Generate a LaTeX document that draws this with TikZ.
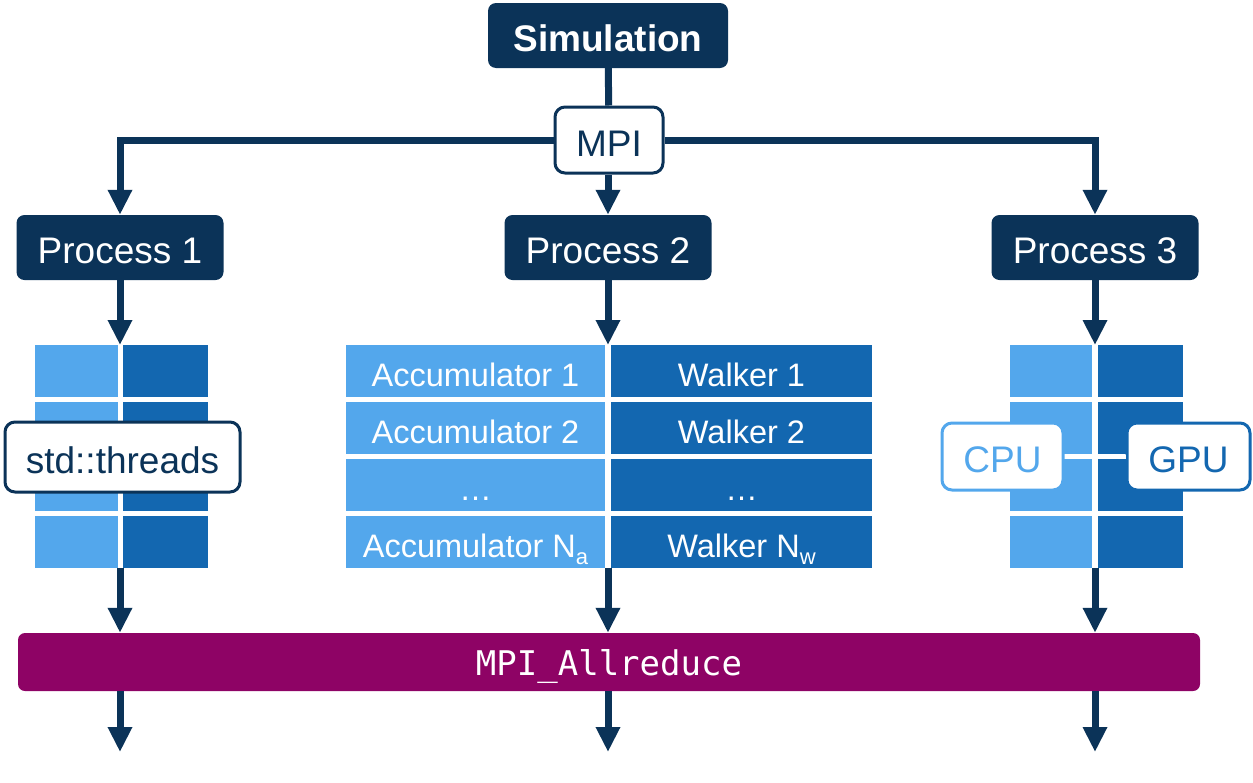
\documentclass[tikz,border=0pt]{standalone}
\usepackage{fontspec}
\setmainfont{Liberation Sans}
\newfontfamily\monofnt{DejaVu Sans Mono}
\usetikzlibrary{arrows.meta}
\definecolor{navy}{HTML}{0B3358}
\definecolor{lightb}{HTML}{53A7EC}
\definecolor{darkb}{HTML}{1367B0}
\definecolor{purp}{HTML}{8E0365}
\newcommand{\subtxt}[1]{\raisebox{-7pt}{\fontsize{22}{22}\selectfont #1}}
\begin{document}
\begin{tikzpicture}[x=1pt,y=-1pt,
  bigtext/.style={font=\fontsize{37}{40}\selectfont, text height=32.5pt, text depth=0pt},
  darkbox/.style={fill=navy, text=white, rounded corners=8pt, inner sep=0pt,
    minimum height=65pt, bigtext},
  whitebox/.style={fill=white, draw=#1, line width=3pt, rounded corners=10pt, inner sep=0pt,
    text=#1, bigtext},
  celltext/.style={font=\fontsize{32.5}{36}\selectfont, text height=31.5pt, text depth=0pt},
  cellL/.style={fill=lightb, inner sep=0pt, minimum height=52pt, text=white, celltext},
  cellD/.style={fill=darkb, inner sep=0pt, minimum height=52pt, text=white, celltext},
  conn/.style={draw=navy, line width=7pt},
  arr/.style={conn, -{Triangle[length=25pt,width=23pt]}}
]
\useasboundingbox (0,0) rectangle (1253,782);

% top
\node[darkbox, minimum width=240pt, font=\bfseries\fontsize{37}{40}\selectfont] (sim) at (608,35.5) {Simulation};
\node[whitebox=navy, minimum width=108pt, minimum height=66pt] (mpi) at (609,140) {MPI};
\node[darkbox, minimum width=207pt] (p1) at (120,247.5) {Process 1};
\node[darkbox, minimum width=207pt] (p2) at (608,247.5) {Process 2};
\node[darkbox, minimum width=207pt] (p3) at (1095,247.5) {Process 3};

\draw[conn] (sim) -- (mpi);
\draw[arr] (mpi.west) -| (p1.north);
\draw[arr] (mpi.east) -| (p3.north);
\draw[arr] (mpi.south -| p2) -- (p2.north);

% block 1
\foreach \r/\y in {1/371,2/428,3/485,4/542}{
  \node[cellL, minimum width=83pt] (a\r) at (76.5,\y) {};
  \node[cellD, minimum width=85pt] (b\r) at (165.5,\y) {};
}
% block 2
\node[cellL, minimum width=259pt] (acc1) at (475.5,371) {Accumulator 1};
\node[cellD, minimum width=261pt] (wal1) at (741.5,371) {Walker 1};
\node[cellL, minimum width=259pt] (acc2) at (475.5,428) {Accumulator 2};
\node[cellD, minimum width=261pt] (wal2) at (741.5,428) {Walker 2};
\node[cellL, minimum width=259pt] (acc3) at (475.5,485) {\dots};
\node[cellD, minimum width=261pt] (wal3) at (741.5,485) {\dots};
\node[cellL, minimum width=259pt] (acc4) at (475.5,542) {Accumulator N\subtxt{a}};
\node[cellD, minimum width=261pt] (wal4) at (741.5,542) {Walker N\subtxt{w}};
% block 3
\foreach \r/\y in {1/371,2/428,3/485,4/542}{
  \node[cellL, minimum width=82pt] (c\r) at (1051,\y) {};
  \node[cellD, minimum width=85pt] (d\r) at (1140.5,\y) {};
}

\node[whitebox=navy, minimum width=235pt, minimum height=70pt] (thr) at (122.5,457) {std::threads};
\node[whitebox=lightb, minimum width=121pt, minimum height=67pt] (cpu) at (1002.5,456.5) {CPU};
\node[whitebox=darkb, minimum width=123pt, minimum height=67pt] (gpu) at (1188.5,456.5) {GPU};
\draw[white, line width=4pt] (cpu.east) -- (gpu.west);

% block top/bottom coordinates
\coordinate (t1) at (120,345);
\coordinate (t2) at (608,345);
\coordinate (t3) at (1095,345);
\coordinate (q1) at (120,568);
\coordinate (q2) at (608,568);
\coordinate (q3) at (1095,568);

\draw[arr] (p1.south) -- (t1);
\draw[arr] (p2.south) -- (t2);
\draw[arr] (p3.south) -- (t3);

\node[fill=purp, text=white, rounded corners=7pt, inner sep=0pt,
  minimum width=1182pt, minimum height=58pt, font=\monofnt\fontsize{34}{38}\selectfont,
  text height=26pt, text depth=0pt]
  (red) at (609,662) {MPI\_Allreduce};

\draw[arr] (q1) -- (q1 |- red.north);
\draw[arr] (q2) -- (q2 |- red.north);
\draw[arr] (q3) -- (q3 |- red.north);

\coordinate (e1) at (120,752);
\coordinate (e2) at (608,752);
\coordinate (e3) at (1095,752);
\draw[arr] (e1 |- red.south) -- (e1);
\draw[arr] (e2 |- red.south) -- (e2);
\draw[arr] (e3 |- red.south) -- (e3);
\end{tikzpicture}
\end{document}
